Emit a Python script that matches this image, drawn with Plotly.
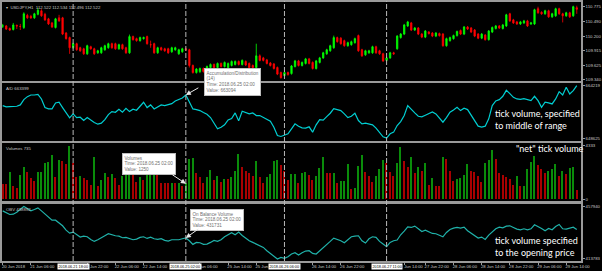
import plotly.graph_objects as go
from plotly.subplots import make_subplots

# ---------------- data (one entry per H1 bar, 20 Jun 22:00 .. 29 Jun 17:00) ----------------
opens = [110.40,110.40,110.35,110.33,110.41,110.39,110.37,110.61,110.59,110.56,
         110.63,110.70,110.63,110.54,110.46,110.37,110.56,110.56,110.26,110.17,
         109.97,110.05,109.97,109.95,109.85,109.99,109.95,109.87,109.87,109.93,
         109.97,110.05,110.05,109.95,110.03,109.97,109.87,110.19,110.15,110.11,
         110.15,110.19,110.03,110.05,109.87,109.97,109.95,109.95,109.89,109.93,
         109.85,109.89,109.95,109.93,109.62,109.48,109.50,109.56,109.52,109.58,
         109.64,109.58,109.66,109.60,109.58,109.62,109.64,109.70,109.64,109.70,
         109.66,109.62,109.58,109.81,109.77,109.73,109.67,109.65,109.58,109.48,
         109.42,109.48,109.46,109.60,109.71,109.62,109.66,109.75,109.68,109.56,
         109.68,109.77,109.85,109.91,109.97,110.17,110.16,110.11,110.01,110.03,
         110.07,110.21,109.93,109.83,109.87,109.87,109.99,109.91,109.85,109.72,
         109.77,109.87,109.95,110.17,110.24,110.40,110.46,110.32,110.36,110.24,
         110.18,110.28,110.26,110.20,110.25,110.24,110.01,110.11,110.15,110.21,
         110.31,110.24,110.38,110.36,110.32,110.24,110.16,110.22,110.13,110.28,
         110.35,110.40,110.35,110.40,110.64,110.52,110.48,110.44,110.46,110.50,
         110.44,110.44,110.74,110.67,110.64,110.70,110.58,110.60,110.74,110.64,
         110.60,110.66,110.60,110.76]
highs = [110.44,110.42,110.37,110.46,110.43,110.44,110.67,110.64,110.62,110.66,
         110.76,110.73,110.66,110.56,110.48,110.56,110.62,110.58,110.28,110.19,
         110.07,110.07,109.99,109.97,110.03,110.01,109.97,109.93,109.99,110.03,
         110.07,110.07,110.07,110.05,110.05,109.99,110.23,110.21,110.17,110.19,
         110.19,110.21,110.11,110.07,109.99,109.99,109.97,109.97,109.99,109.99,
         109.95,109.97,109.97,109.95,109.64,109.57,109.58,109.58,109.62,109.66,
         109.66,109.68,109.68,109.70,109.68,109.72,109.72,109.72,109.74,109.72,
         109.68,109.64,110.05,109.84,109.79,109.75,109.69,109.67,109.60,109.50,
         109.50,109.50,109.63,109.73,109.73,109.70,109.77,109.77,109.70,109.73,
         109.79,109.89,109.95,110.03,110.21,110.19,110.18,110.13,110.09,110.11,
         110.17,110.23,109.95,109.93,109.93,110.01,110.01,109.93,109.87,109.79,
         109.89,109.89,110.22,110.26,110.44,110.50,110.48,110.38,110.38,110.26,
         110.32,110.30,110.28,110.28,110.27,110.26,110.17,110.19,110.23,110.31,
         110.33,110.40,110.40,110.38,110.34,110.26,110.26,110.24,110.32,110.39,
         110.42,110.42,110.44,110.64,110.66,110.54,110.50,110.50,110.52,110.52,
         110.48,110.74,110.78,110.69,110.72,110.72,110.66,110.76,110.76,110.66,
         110.68,110.68,110.80,110.80]
lows = [110.36,110.32,110.30,110.31,110.34,110.32,110.34,110.54,110.54,110.54,
        110.61,110.58,110.50,110.42,110.36,110.35,110.48,110.22,110.13,109.85,
        109.95,109.91,109.89,109.83,109.83,109.93,109.83,109.85,109.85,109.91,
        109.95,109.95,109.93,109.93,109.93,109.85,109.85,110.11,110.09,110.09,
        110.13,110.03,109.97,109.85,109.85,109.91,109.89,109.85,109.87,109.91,
        109.83,109.87,109.91,109.58,109.46,109.46,109.47,109.48,109.50,109.56,
        109.56,109.56,109.58,109.58,109.56,109.60,109.62,109.62,109.62,109.61,
        109.56,109.56,109.56,109.70,109.70,109.64,109.60,109.54,109.43,109.36,
        109.40,109.42,109.44,109.58,109.60,109.60,109.64,109.64,109.54,109.54,
        109.66,109.75,109.83,109.89,109.95,110.07,110.03,109.99,109.99,110.01,
        110.05,109.89,109.79,109.81,109.85,109.85,109.85,109.83,109.69,109.70,
        109.75,109.83,109.93,110.15,110.22,110.38,110.30,110.30,110.22,110.16,
        110.16,110.23,110.18,110.18,110.19,109.99,109.99,110.09,110.13,110.19,
        110.22,110.22,110.32,110.26,110.18,110.14,110.14,110.11,110.11,110.26,
        110.33,110.34,110.33,110.38,110.48,110.44,110.42,110.42,110.44,110.38,
        110.42,110.42,110.64,110.62,110.62,110.56,110.56,110.58,110.62,110.47,
        110.58,110.56,110.58,110.64]
closes = [110.40,110.34,110.32,110.42,110.40,110.39,110.64,110.56,110.56,110.64,
          110.71,110.60,110.52,110.44,110.38,110.54,110.50,110.24,110.15,109.97,
          110.05,109.93,109.91,109.85,110.01,109.95,109.85,109.91,109.97,110.01,
          110.05,109.97,109.95,110.03,109.95,109.87,110.19,110.13,110.11,110.17,
          110.17,110.05,110.03,109.87,109.97,109.93,109.91,109.87,109.97,109.97,
          109.93,109.95,109.93,109.62,109.48,109.55,109.56,109.50,109.60,109.64,
          109.58,109.66,109.60,109.68,109.66,109.70,109.70,109.64,109.72,109.63,
          109.58,109.58,109.81,109.72,109.72,109.66,109.62,109.56,109.45,109.38,
          109.48,109.44,109.61,109.71,109.62,109.68,109.75,109.66,109.56,109.71,
          109.77,109.87,109.93,110.01,110.17,110.09,110.05,110.01,110.07,110.09,
          110.15,109.91,109.81,109.91,109.91,109.99,109.87,109.85,109.71,109.77,
          109.87,109.85,110.20,110.24,110.42,110.48,110.32,110.36,110.24,110.18,
          110.30,110.25,110.20,110.26,110.21,110.01,110.15,110.17,110.21,110.29,
          110.24,110.38,110.34,110.28,110.20,110.16,110.24,110.13,110.30,110.37,
          110.40,110.36,110.42,110.62,110.50,110.46,110.44,110.48,110.50,110.40,
          110.46,110.72,110.66,110.64,110.70,110.58,110.64,110.74,110.64,110.60,
          110.66,110.58,110.78,110.73]
ad_values = [658140,657788,657876,657964,657964,658316,659726,660519,660959,660959,
             661136,659902,657611,657259,657259,658845,659021,657611,656202,654880,
             655938,654968,655057,654176,654968,654176,653647,653207,653471,654440,
             655761,656554,656378,657171,656378,657435,656554,657171,656907,657964,
             659021,657611,658316,657259,657788,658316,658140,658316,658669,659373,
             659814,660166,660959,659197,657259,657083,656819,656290,655849,654968,
             653559,651973,652414,653030,654352,654704,656202,654087,656642,656202,
             655938,656202,655497,655497,655057,654528,653999,652414,650211,649947,
             650211,650651,651973,653295,652678,652237,652149,652502,651092,653030,
             654440,654264,655233,656114,657347,657083,656819,655938,654968,655321,
             656114,654176,653295,653471,653295,653030,652149,651004,649859,649506,
             650651,651092,652854,653911,655497,658140,657083,656202,655321,655145,
             655585,655938,656466,655938,654880,653735,654968,656378,656995,657699,
             656819,657435,657083,655673,654176,652678,652414,652678,654616,658140,
             659373,659726,660607,662193,661312,660343,659902,659814,659990,659726,
             659462,660607,659462,657699,659021,658845,658580,659902,661840,660959,
             662986,661224,662105,663426]
volumes = [1200,1190,2140,1040,860,1925,2540,2140,1660,1470,
           2140,2190,2910,2990,3530,1790,3100,3070,2800,4280,
           2860,1790,1845,1660,1520,1120,3340,990,1520,2110,
           1740,2000,1660,1120,1845,1925,2190,2000,1390,1740,
           1520,2270,2330,2990,2060,1260,1250,1240,1310,1255,
           1300,990,1250,3180,3260,2110,1740,1260,1790,2330,
           1520,1845,1390,1580,1570,1740,2270,3610,2540,2270,
           2060,1845,3070,1740,1260,1740,2000,3070,3090,2730,
           2200,1520,2000,2005,1260,2060,2140,1925,1520,1845,
           2460,3340,2060,2060,2110,1260,1440,1470,2810,780,
           860,2650,3530,2190,1845,1390,1845,2380,3130,2910,
           2190,1845,2910,4140,3070,2590,3400,2110,2590,2270,
           2860,1120,1660,990,990,3340,3180,2270,1470,1580,
           1660,1925,2810,2270,2190,1845,1390,2860,3130,3930,
           3180,2060,1925,1740,1580,1120,1845,990,1040,2380,
           2990,3450,2730,2380,2060,2270,2380,2810,1845,2270,
           2005,2460,2540,735]
obv_values = [452777,451486,449936,450195,451744,454068,456133,454584,452777,453809,
              455100,452777,450195,447354,445547,445547,443481,441158,437801,435477,
              436252,434444,432379,433153,432637,430571,429022,430313,431604,433412,
              434961,433928,433412,433153,431862,432121,431346,430313,430830,432121,
              432637,431346,432379,431088,430571,431088,429797,429280,430313,430055,
              430313,431088,431731,429539,426698,428248,427989,426698,426957,428248,
              429797,429022,430313,432637,433928,435735,434186,436252,433670,431604,
              429539,428248,426957,425666,424375,421793,419727,417145,415338,416629,
              415854,417145,419211,420243,418436,420243,421534,421793,419727,419211,
              421534,424116,426698,429022,431604,430830,429539,427989,430571,432637,
              433153,433412,429539,427731,431088,432637,432121,429022,426957,424891,
              428248,429539,430055,434186,437026,440383,439867,440899,438834,436768,
              437801,436510,435219,434961,433670,432637,435994,438317,439350,439867,
              439350,440125,437285,435219,433412,431604,432379,430571,433928,436510,
              438834,440125,439608,440899,441158,439867,438576,438059,438834,438059,
              438834,441932,440641,439092,437285,439092,438059,440641,442190,438834,
              438576,439608,440125,438317]

# time-axis labels (bar index where each visible label starts) and their text
tick_pos = [0, 8, 24, 32, 40, 56, 64, 72, 88, 96, 114.2, 120, 128, 136, 144, 152, 160]
tick_text = ["20 Jun 2018", "21 Jun 06:00", "1 Jun 22:00", "22 Jun 06:00", "22 Jun 14:00",
             "Jun 06:00", "25 Jun 14:00", "25 Jun", "26 Jun 14:00", "26 Jun 22:00",
             "Jun 14:00", "27 Jun 22:00", "28 Jun 06:00", "28 Jun 14:00", "28 Jun 22:00",
             "29 Jun 06:00", "29 Jun 14:00"]
cursor_pos = [20, 52, 80, 109]
cursor_text = ["2018.06.21 18:00", "2018.06.25 02:00", "2018.06.26 06:00", "2018.06.27 11:00"]
price_ticks = [110.775, 110.490, 110.200, 109.915, 109.625, 109.340]
ad_scale = [664219, 648625]
obv_scale = [457940, 413783]
vol_scale = [4333, 0]
hover_bar = 52
hover_ad_text = "663094"

# ---------------- figure ----------------
bars = list(range(len(closes)))
UP, DN = "#00ff00", "#ff0000"
VUP, VDN = "#0a8c0a", "#a80000"
GRID = "#9a9a9a"
LBL = "#c8c8c8"
SMALL = "Liberation Sans, Arial, sans-serif"

fig = make_subplots(rows=4, cols=1, shared_xaxes=True, vertical_spacing=0)

fig.add_trace(go.Candlestick(
    x=bars, open=opens, high=highs, low=lows, close=closes,
    increasing=dict(line=dict(color=UP, width=0.8), fillcolor=UP),
    decreasing=dict(line=dict(color=DN, width=0.8), fillcolor=DN),
    whiskerwidth=0, showlegend=False, hoverinfo="skip"), row=1, col=1)

fig.add_trace(go.Scatter(x=bars, y=ad_values, mode="lines",
                         line=dict(color="#00ced1", width=1.2),
                         showlegend=False, hoverinfo="skip"), row=2, col=1)

vol_colors = [VDN if i == 0 or volumes[i] <= volumes[i - 1] else VUP for i in range(len(volumes))]
fig.add_trace(go.Bar(x=bars, y=volumes, marker=dict(color=vol_colors, line=dict(width=0)),
                     width=0.4, showlegend=False, hoverinfo="skip"), row=3, col=1)

fig.add_trace(go.Scatter(x=bars, y=obv_values, mode="lines",
                         line=dict(color="#20b2aa", width=1.2),
                         showlegend=False, hoverinfo="skip"), row=4, col=1)

H = 261.0  # plot-area height in px (margin t=0, b=10)
def dom(top_px, bot_px):
    return [1 - bot_px / H, 1 - top_px / H]

frame = dict(showline=True, mirror=True, linecolor=GRID, linewidth=1.5,
             showgrid=False, zeroline=False)
yfont = dict(family=SMALL, size=4.3, color=LBL)

fig.update_layout(
    width=602, height=271,
    margin=dict(l=1, r=19, t=0, b=10),
    paper_bgcolor="black", plot_bgcolor="black",
    showlegend=False, hovermode=False, bargap=0, boxgap=0.45,
    xaxis=dict(rangeslider=dict(visible=False)),
)
for i in range(1, 5):
    fig.update_xaxes(range=[-0.2, 164.2], **frame, row=i, col=1,
                     showticklabels=(i == 4))
fig.update_xaxes(tickvals=tick_pos, ticktext=tick_text, ticks="outside", ticklen=2,
                 tickcolor=GRID, ticklabelposition="outside right", tickangle=0,
                 ticklabelshift=-2,
                 tickfont=dict(family=SMALL, size=4.2, color=LBL), row=4, col=1)

fig.update_yaxes(side="right", ticks="outside", ticklen=2, tickcolor=GRID, tickfont=yfont, **frame)
fig.update_yaxes(domain=dom(1, 80), range=[109.320, 110.873], tickvals=price_ticks,
                 ticktext=[f"{v:.3f}" for v in price_ticks], row=1, col=1)
fig.update_yaxes(domain=dom(82, 141), range=[648625, 664219],
                 tickvals=[ad_scale[0] - 660, ad_scale[1] + 660],
                 ticktext=[str(v) for v in ad_scale], row=2, col=1)
fig.update_yaxes(domain=dom(143, 201), range=[-160, 4491],
                 tickvals=vol_scale, ticktext=[str(v) for v in vol_scale], row=3, col=1)
fig.update_yaxes(domain=dom(204, 261), range=[413783, 457940],
                 tickvals=[obv_scale[0] - 1550, obv_scale[1] + 2320],
                 ticktext=[str(v) for v in obv_scale], row=4, col=1)

# cursor (crosshair) dashed lines
for p in cursor_pos:
    fig.add_shape(type="line", xref="x", x0=p, x1=p, yref="paper", y0=0, y1=1,
                  line=dict(color="#b8b8b8", width=1, dash="5px,2px"))

ann = []
# panel titles
titles = [("▾  USDJPY,H1  112.522 112.534 112.496 112.522", "y domain"),
          ("A/D 663399", "y2 domain"),
          ("Volumes 735", "y3 domain"),
          ("OBV 438892", "y4 domain")]
for txt, yr in titles:
    ann.append(dict(text=txt, xref="paper", x=0.004, yref=yr, y=1, xanchor="left",
                    yanchor="top", yshift=-1, showarrow=False,
                    font=dict(family=SMALL, size=4.3, color=LBL)))

# tooltips
tip = dict(showarrow=False, xanchor="left", yanchor="top", align="left",
           bgcolor="#ffffff", bordercolor="#bdbdbd", borderwidth=1, borderpad=1.5,
           font=dict(family=SMALL, size=4.6, color="#707070"))
ann.append(dict(text="Accumulation/Distribution<br>(14)<br>Time: 2018.06.25 02:00<br>Value: " + hover_ad_text,
                xref="paper", x=(204 - 1) / 582, yref="paper", y=1 - 67 / H, **tip))
ann.append(dict(text="Volumes<br>Time: 2018.06.25 02:00<br>Value: %d" % volumes[hover_bar],
                xref="paper", x=(122 - 1) / 582, yref="paper", y=1 - 153 / H, **tip))
ann.append(dict(text="On Balance Volume<br>Time: 2018.06.25 02:00<br>Value: %d" % obv_values[hover_bar],
                xref="paper", x=(190 - 1) / 582, yref="paper", y=1 - 209 / H, **tip))

arrow = dict(text="", showarrow=True, arrowhead=2, arrowsize=1, arrowwidth=1,
             arrowcolor="#e8e8e8")
ann.append(dict(x=hover_bar, y=ad_values[hover_bar], xref="x2", yref="y2", ax=14, ay=-8, **arrow))
ann.append(dict(x=hover_bar, y=volumes[hover_bar], xref="x3", yref="y3", ax=-15, ay=-10, **arrow))
ann.append(dict(x=hover_bar, y=obv_values[hover_bar], xref="x4", yref="y4", ax=14, ay=-10, **arrow))

# hand-written notes
note = dict(showarrow=False, xanchor="left", yanchor="middle", align="left",
            font=dict(family="Comic Sans MS, Lato, sans-serif", size=9, color="white"))
ann.append(dict(text="tick volume, specified<br>to middle of range",
                xref="paper", x=(495 - 1) / 582, yref="paper", y=1 - 119 / H, **note))
ann.append(dict(text="\"net\" tick volume",
                xref="paper", x=(516 - 1) / 582, yref="paper", y=1 - 148 / H, **note))
ann.append(dict(text="tick volume specified<br>to the opening price",
                xref="paper", x=(495 - 1) / 582, yref="paper", y=1 - 246 / H, **note))

# crosshair time labels on the time axis
for p, t in zip(cursor_pos, cursor_text):
    ann.append(dict(text=t, xref="x4", x=p, yref="paper", y=0, yanchor="top", yshift=-1.5,
                    showarrow=False, bgcolor="#ffffff", borderpad=0.5,
                    font=dict(family=SMALL, size=3.8, color="#000000")))

fig.update_layout(annotations=ann)
fig.write_html("out.html")
